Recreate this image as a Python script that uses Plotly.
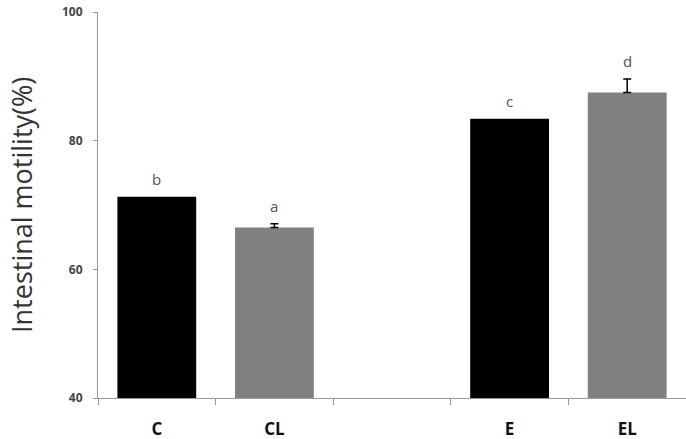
import plotly.graph_objects as go

categories = ["C", "CL", " ", "E", "EL"]
values = [71.3, 66.5, None, 83.4, 87.5]
errors = [None, 0.6, None, None, 2.1]
colors = ["#000000", "#808080", "#ffffff", "#000000", "#808080"]
letters = ["b", "a", "", "c", "d"]

BASE = 40

fig = go.Figure()
fig.add_trace(go.Bar(
    x=categories,
    y=[(v - BASE) if v is not None else None for v in values],
    base=BASE,
    marker=dict(color=colors, line=dict(width=0)),
    width=0.67,
    showlegend=False,
    hoverinfo="skip",
))

# error bars only where an error exists
err_x = [c for c, e in zip(categories, errors) if e is not None]
err_y = [v for v, e in zip(values, errors) if e is not None]
err_v = [e for e in errors if e is not None]
fig.add_trace(go.Scatter(
    x=err_x, y=err_y, mode="markers",
    marker=dict(size=1, opacity=0),
    error_y=dict(type="data", array=err_v, arrayminus=[0] * len(err_v),
                 symmetric=False, color="#000000", thickness=1.5, width=4),
    showlegend=False, hoverinfo="skip",
))

for cat, v, e, t in zip(categories, values, errors, letters):
    if v is None or not t:
        continue
    fig.add_annotation(x=cat, y=v + (e or 0), text=t, showarrow=False,
                       yanchor="bottom", yshift=6,
                       font=dict(family="Open Sans", size=15, color="#555555"))

fig.add_annotation(xref="paper", yref="paper", x=-(98 - 21) / 588, y=0.5,
                   text="Intestinal motility(%)", textangle=-90, showarrow=False,
                   xanchor="center", yanchor="middle",
                   font=dict(family="Open Sans", size=27, color="#333333"))

fig.update_layout(
    width=686, height=439,
    margin=dict(l=98, r=0, t=12, b=41),
    plot_bgcolor="white", paper_bgcolor="white",
    xaxis=dict(
        type="category", categoryorder="array", categoryarray=categories,
        range=[-0.5, 4.5], tickson="boundaries",
        ticks="outside", ticklen=6, tickcolor="#999999", tickwidth=1,
        showline=True, linecolor="#999999", linewidth=1,
        showgrid=False, zeroline=False,
        tickfont=dict(family="Open Sans", size=17, color="#111111", weight="bold"),
        ticklabelstandoff=16,
    ),
    yaxis=dict(
        range=[40, 100], tickvals=[40, 60, 80, 100],
        ticks="outside", ticklen=4, tickcolor="#999999",
        showline=True, linecolor="#999999", linewidth=1,
        showgrid=False, zeroline=False,
        tickfont=dict(family="Open Sans", size=12, color="#444444", weight="bold"),
        ticklabelstandoff=8,
    ),
)

fig.write_html("out.html")
